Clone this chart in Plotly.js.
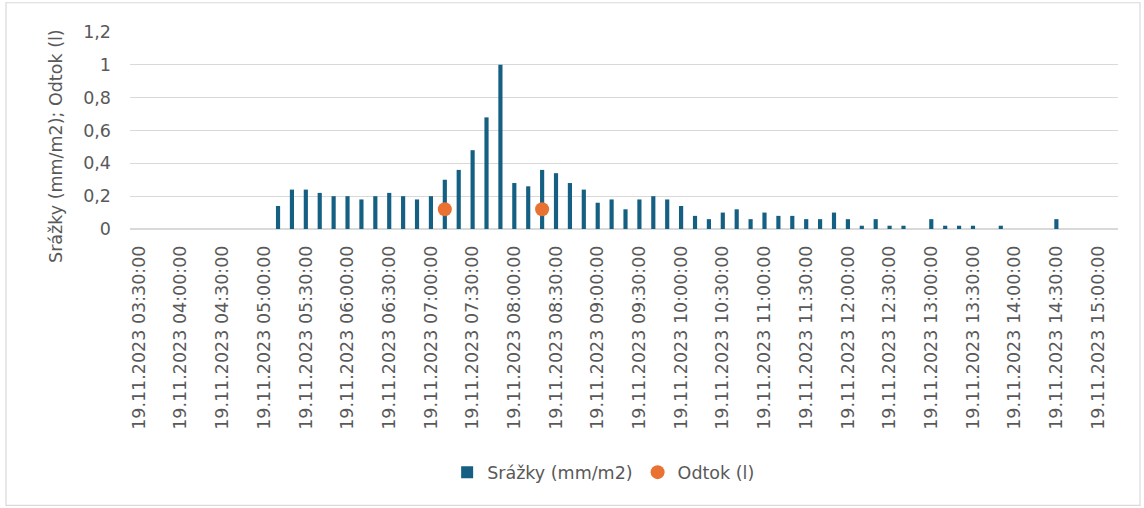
<!DOCTYPE html>
<html>
<head>
<meta charset="utf-8">
<script src="https://cdn.plot.ly/plotly-3.0.1.min.js"></script>
<style>
  html, body { margin: 0; padding: 0; background: #ffffff; }
  #chart { width: 1144px; height: 508px; }
</style>
</head>
<body>
<div id="chart"></div>
<script>
// Rainfall (10-minute totals) and runoff measurements, 19.11.2023
const day = '2023-11-19';
const dateLabel = '19.11.2023';

const srazkyTimes = [
  '05:10', '05:20', '05:30', '05:40', '05:50', '06:00', '06:10', '06:20', '06:30', '06:40',
  '06:50', '07:00', '07:10', '07:20', '07:30', '07:40', '07:50', '08:00', '08:10', '08:20',
  '08:30', '08:40', '08:50', '09:00', '09:10', '09:20', '09:30', '09:40', '09:50', '10:00',
  '10:10', '10:20', '10:30', '10:40', '10:50', '11:00', '11:10', '11:20', '11:30', '11:40',
  '11:50', '12:00', '12:10', '12:20', '12:30', '12:40', '13:00', '13:10', '13:20', '13:30',
  '13:50', '14:30'
];
const srazkyValues = [
  0.14, 0.24, 0.24, 0.22, 0.20, 0.20, 0.18, 0.20, 0.22, 0.20,
  0.18, 0.20, 0.30, 0.36, 0.48, 0.68, 1.00, 0.28, 0.26, 0.36,
  0.34, 0.28, 0.24, 0.16, 0.18, 0.12, 0.18, 0.20, 0.18, 0.14,
  0.08, 0.06, 0.10, 0.12, 0.06, 0.10, 0.08, 0.08, 0.06, 0.06,
  0.10, 0.06, 0.02, 0.06, 0.02, 0.02, 0.06, 0.02, 0.02, 0.02,
  0.02, 0.06
];

const odtokTimes = ['07:10', '08:20'];
const odtokValues = [0.12, 0.12];

// Axis labels every 30 minutes
const tickTimes = [
  '03:30', '04:00', '04:30', '05:00', '05:30', '06:00', '06:30', '07:00',
  '07:30', '08:00', '08:30', '09:00', '09:30', '10:00', '10:30', '11:00',
  '11:30', '12:00', '12:30', '13:00', '13:30', '14:00', '14:30', '15:00'
];

const yTicks = [0, 0.2, 0.4, 0.6, 0.8, 1, 1.2];

const stamp = t => day + ' ' + t + ':00';

const textColor = '#595959';
const gridColor = '#d9d9d9';
const font = 'DejaVu Sans, sans-serif';

const traces = [
  {
    type: 'bar',
    name: 'Srážky (mm/m2)',
    x: srazkyTimes.map(stamp),
    y: srazkyValues,
    width: 180000,
    marker: { color: '#156082', line: { width: 0 } },
    hoverinfo: 'x+y'
  },
  {
    type: 'scatter',
    mode: 'markers',
    name: 'Odtok (l)',
    x: odtokTimes.map(stamp),
    y: odtokValues,
    marker: { color: '#e97132', size: 14, symbol: 'circle' }
  }
];

const layout = {
  width: 1144,
  height: 508,
  paper_bgcolor: '#ffffff',
  plot_bgcolor: '#ffffff',
  separators: ', ',
  font: { family: font, size: 17.5, color: textColor },
  margin: { l: 130, r: 26, t: 32, b: 278.5, pad: 0 },
  showlegend: true,
  legend: {
    orientation: 'h',
    x: 0.321,
    xanchor: 'left',
    y: -1.235,
    yanchor: 'middle',
    font: { family: font, size: 17.5, color: textColor },
    itemgap: 8,
    bgcolor: 'rgba(0,0,0,0)'
  },
  xaxis: {
    type: 'date',
    range: [day + ' 03:23:30', day + ' 15:14:20'],
    tickmode: 'array',
    tickvals: tickTimes.map(stamp),
    ticktext: tickTimes.map(t => dateLabel + ' ' + t + ':00'),
    tickangle: -90,
    ticks: '',
    ticklabelstandoff: 12,
    showgrid: false,
    zeroline: false,
    showline: false,
    tickfont: { family: font, size: 17.5, color: textColor },
    fixedrange: true
  },
  yaxis: {
    range: [0, 1.2],
    tickmode: 'array',
    tickvals: yTicks,
    ticks: '',
    ticklabelstandoff: 18,
    showgrid: true,
    gridcolor: gridColor,
    gridwidth: 1.3,
    zeroline: true,
    zerolinecolor: gridColor,
    zerolinewidth: 1.3,
    showline: false,
    tickfont: { family: font, size: 17.5, color: textColor },
    fixedrange: true
  },
  annotations: [
    {
      text: 'Srážky (mm/m2); Odtok (l)',
      xref: 'paper', yref: 'paper',
      x: -0.0742, y: 0.42,
      xanchor: 'center', yanchor: 'middle',
      textangle: -90,
      showarrow: false,
      font: { family: font, size: 17.5, color: textColor }
    }
  ],
  shapes: [
    {
      type: 'rect',
      xref: 'paper', yref: 'paper',
      x0: -0.1255, x1: 1.0223,
      y0: -1.4025, y1: 1.1486,
      line: { color: '#d9d9d9', width: 1.2 },
      fillcolor: 'rgba(0,0,0,0)',
      layer: 'below'
    }
  ]
};

Plotly.newPlot('chart', traces, layout, { displayModeBar: false, staticPlot: true });
</script>
</body>
</html>
